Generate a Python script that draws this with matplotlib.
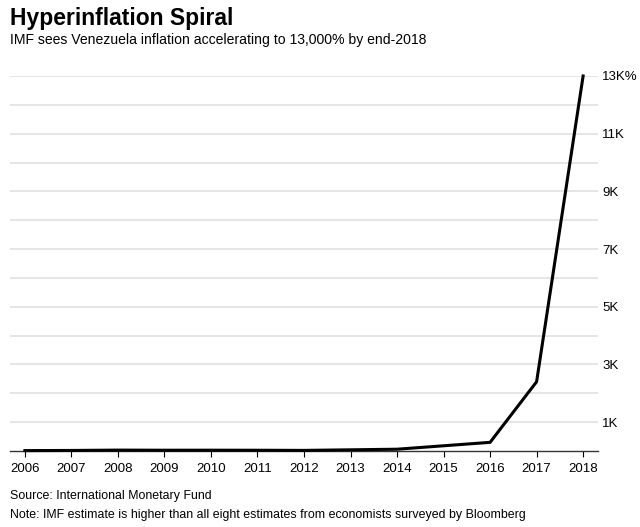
import matplotlib.pyplot as plt
import numpy as np

plt.rcParams['font.family'] = ['Liberation Sans Narrow', 'Liberation Sans', 'DejaVu Sans']

years = [2006, 2007, 2008, 2009, 2010, 2011, 2012, 2013, 2014, 2015, 2016, 2017, 2018]
inflation = [14, 19, 31, 27, 28, 26, 21, 41, 62, 181, 300, 2400, 13000]

grid_ticks = np.arange(1000, 14000, 1000)
label_ticks = [1000, 3000, 5000, 7000, 9000, 11000, 13000]
label_text = ['1K', '3K', '5K', '7K', '9K', '11K', '13K%']

fig = plt.figure(figsize=(6.4, 5.27), dpi=100)
ax = fig.add_axes([10 / 640, 76 / 527, 588 / 640, 375 / 527])

# light horizontal grid every 1K
for g in grid_ticks:
    ax.axhline(g, color='#e3e3e3', lw=1.3, zorder=0)

ax.plot(years, inflation, color='black', lw=2.2, clip_on=False, zorder=3,
        solid_joinstyle='miter')

ax.set_xlim(2005.68, 2018.32)
ax.set_ylim(0, 13000)

ax.set_xticks(years)
ax.set_xticklabels([str(y) for y in years], fontsize=9.5)
ax.tick_params(axis='x', length=4, width=0.8, color='black', pad=5)

ax.yaxis.tick_right()
ax.set_yticks(label_ticks)
ax.set_yticklabels(label_text, fontsize=9.5)
ax.tick_params(axis='y', length=0, pad=3)

for s in ['top', 'left', 'right']:
    ax.spines[s].set_visible(False)
ax.spines['bottom'].set_color('#333333')
ax.spines['bottom'].set_linewidth(1.0)

fig.text(10 / 640, 1 - 18 / 527, 'Hyperinflation Spiral', fontsize=16.5, fontweight='bold',
         va='center', ha='left')
fig.text(10 / 640, 1 - 40 / 527, 'IMF sees Venezuela inflation accelerating to 13,000% by end-2018',
         fontsize=10.1, va='center', ha='left')
fig.text(10 / 640, 1 - 496 / 527, 'Source: International Monetary Fund', fontsize=8.9,
         va='center', ha='left')
fig.text(10 / 640, 1 - 515 / 527,
         'Note: IMF estimate is higher than all eight estimates from economists surveyed by Bloomberg',
         fontsize=8.9, va='center', ha='left')

fig.savefig('out.png', dpi=100)
